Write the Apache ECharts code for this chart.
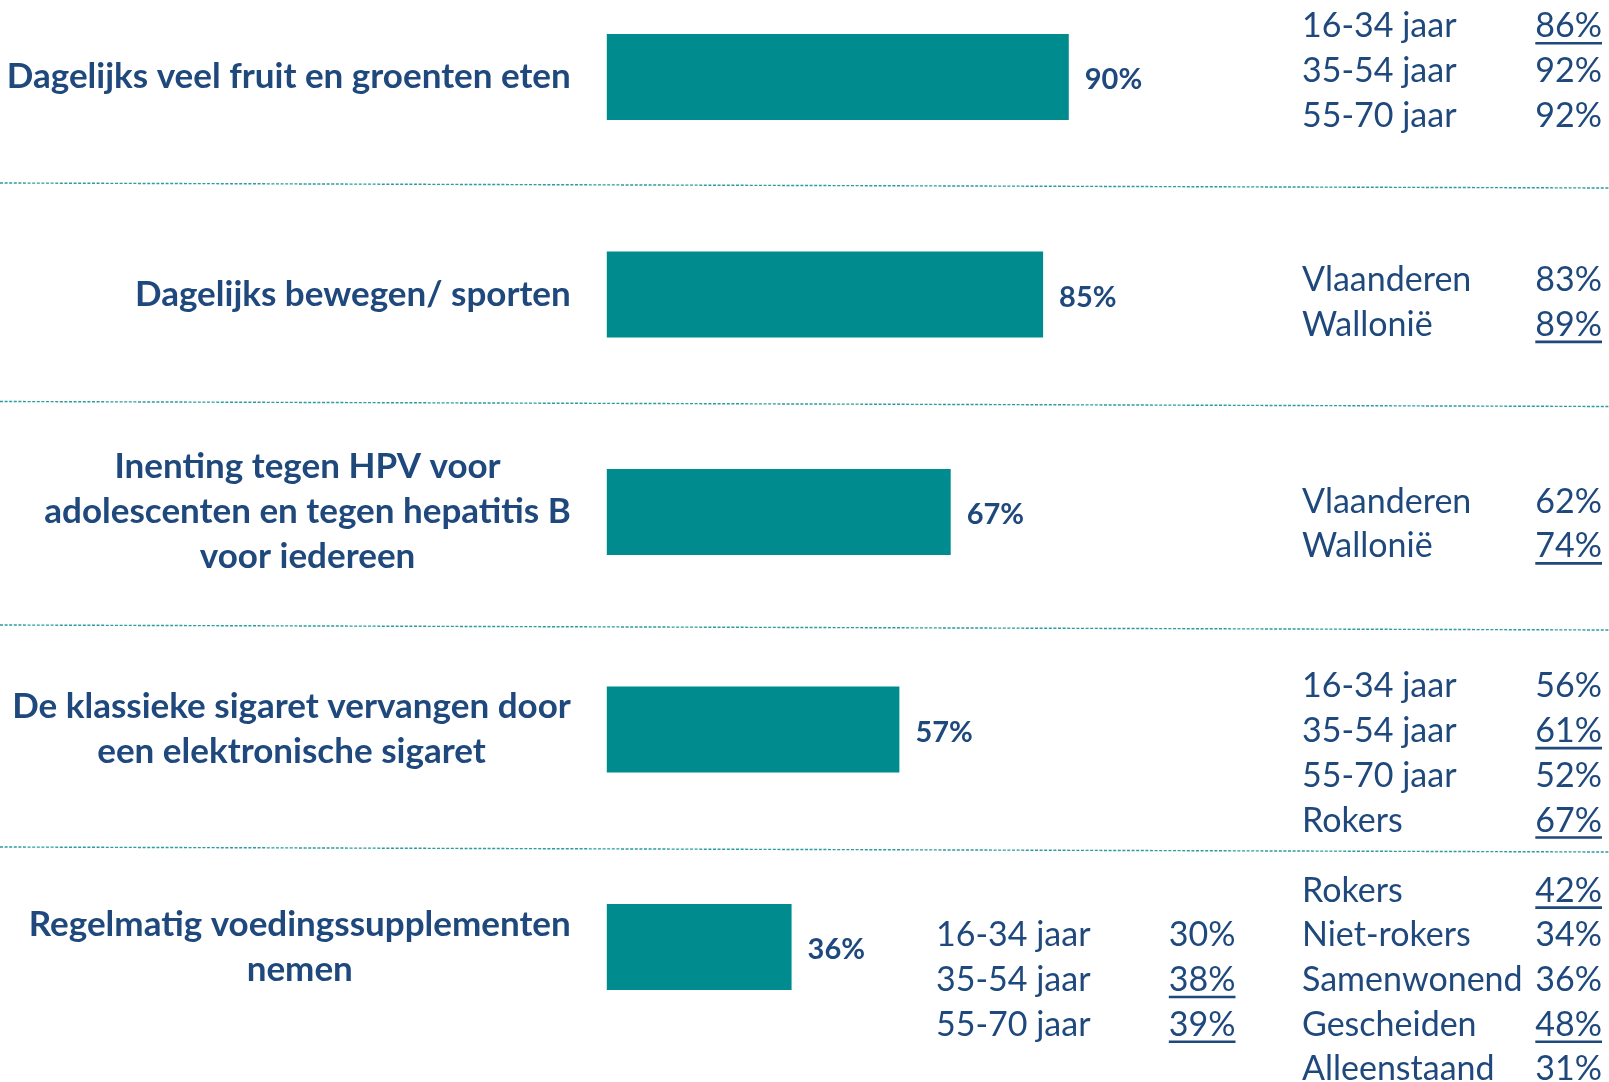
<!DOCTYPE html>
<html>
<head>
<meta charset="utf-8">
<script src="https://cdn.jsdelivr.net/npm/echarts@6/dist/echarts.min.js"></script>
<style>
    html, body { margin: 0; padding: 0; background: #fff; }
    #chart { width: 1609px; height: 1082px; }
</style>
</head>
<body>
<div id="chart"></div>
<script>
// onderwerpen en totaal (%)
const categories = [
    'Dagelijks veel fruit en groenten eten',
    'Dagelijks bewegen/ sporten',
    'Inenting tegen HPV voor\nadolescenten en tegen hepatitis B\nvoor iedereen',
    'De klassieke sigaret vervangen door\neen elektronische sigaret',
    'Regelmatig voedingssupplementen\nnemen'
];
const totals = [90, 85, 67, 57, 36];

// uitsplitsing rechts
const rightGroups = [
    ['16-34 jaar', '35-54 jaar', '55-70 jaar'],
    ['Vlaanderen', 'Wallonië'],
    ['Vlaanderen', 'Wallonië'],
    ['16-34 jaar', '35-54 jaar', '55-70 jaar', 'Rokers'],
    ['Rokers', 'Niet-rokers', 'Samenwonend', 'Gescheiden', 'Alleenstaand']
];
const rightValues = [
    [86, 92, 92],
    [83, 89],
    [62, 74],
    [56, 61, 52, 67],
    [42, 34, 36, 48, 31]
];
const rightMarked = [
    [1, 0, 0],
    [0, 1],
    [0, 1],
    [0, 1, 0, 1],
    [1, 0, 0, 1, 0]
];

// uitsplitsing midden (alleen laatste rij)
const midGroups = [[], [], [], [], ['16-34 jaar', '35-54 jaar', '55-70 jaar']];
const midValues = [[], [], [], [], [30, 38, 39]];
const midMarked = [[], [], [], [], [0, 1, 1]];

const textColor = '#1F497D';
const barColor = '#008C8F';
const fontFamily = 'Lato, "Open Sans", sans-serif';
const tableFont = 34;
const lineStep = 44.7;
// verticale verschuiving van elk blok t.o.v. de balk
const blockShift = [-6, 8, 12, 24, 33];

const measureCtx = document.createElement('canvas').getContext('2d');
function textWidth(s) {
    measureCtx.font = tableFont + 'px ' + fontFamily;
    return measureCtx.measureText(s).width;
}

function tableBlock(children, labels, values, marked, cy, labelX, valueX) {
    const top = cy - (labels.length - 1) * lineStep / 2;
    labels.forEach((lab, k) => {
        const y = top + k * lineStep;
        const val = values[k] + '%';
        children.push({
            type: 'text',
            style: {
                text: lab, x: labelX, y: y,
                fill: textColor, fontSize: tableFont, fontFamily: fontFamily,
                align: 'left', verticalAlign: 'middle'
            }
        });
        children.push({
            type: 'text',
            style: {
                text: val, x: valueX, y: y,
                fill: textColor, fontSize: tableFont, fontFamily: fontFamily,
                align: 'right', verticalAlign: 'middle'
            }
        });
        if (marked[k]) {
            const w = textWidth(val);
            children.push({
                type: 'line',
                shape: { x1: valueX - w, y1: y + 17, x2: valueX, y2: y + 17 },
                style: { stroke: textColor, lineWidth: 2.6 }
            });
        }
    });
}

const chart = echarts.init(document.getElementById('chart'));

const separators = [[183, 188], [401.5, 406.5], [625, 630], [847, 852]];

chart.setOption({
    animation: false,
    backgroundColor: '#fff',
    grid: {
        left: 606.8,
        width: 513.3,
        top: 77,
        bottom: 135,
        containLabel: false
    },
    xAxis: {
        type: 'value',
        min: 0,
        max: 100,
        show: false
    },
    yAxis: {
        type: 'category',
        data: categories,
        inverse: true,
        boundaryGap: false,
        axisLine: { show: false },
        axisTick: { show: false },
        splitLine: { show: false },
        axisLabel: {
            margin: 36,
            align: 'right',
            formatter: (v) => v.split('\n').map(s => '{c|' + s + '}').join('\n'),
            rich: {
                c: {
                    align: 'center',
                    fontFamily: fontFamily,
                    fontWeight: 'bold',
                    fontSize: 35,
                    lineHeight: 45,
                    color: textColor
                }
            }
        }
    },
    graphic: separators.map(s => ({
        type: 'line',
        silent: true,
        shape: { x1: 0, y1: s[0], x2: 1609, y2: s[1] },
        style: { stroke: '#2A9D9F', lineWidth: 1.4, lineDash: [3, 1.6] }
    })),
    series: [
        {
            type: 'bar',
            data: totals,
            barWidth: 86,
            clip: false,
            itemStyle: { color: barColor },
            label: {
                show: true,
                position: 'right',
                distance: 16,
                offset: [0, 3],
                formatter: '{c}%',
                fontFamily: fontFamily,
                fontWeight: 'bold',
                fontSize: 29,
                color: textColor
            }
        },
        {
            type: 'custom',
            clip: false,
            silent: true,
            data: categories.map((c, i) => [0, i]),
            encode: { x: 0, y: 1 },
            renderItem: (params, api) => {
                const i = params.dataIndex;
                const p = api.coord([0, i]);
                const cy = p[1] + blockShift[i];
                const children = [];
                tableBlock(children, rightGroups[i], rightValues[i], rightMarked[i], cy, 1302, 1602);
                if (midGroups[i].length) {
                    tableBlock(children, midGroups[i], midValues[i], midMarked[i], cy, 936, 1235.5);
                }
                return { type: 'group', children: children };
            }
        }
    ]
});
</script>
</body>
</html>
